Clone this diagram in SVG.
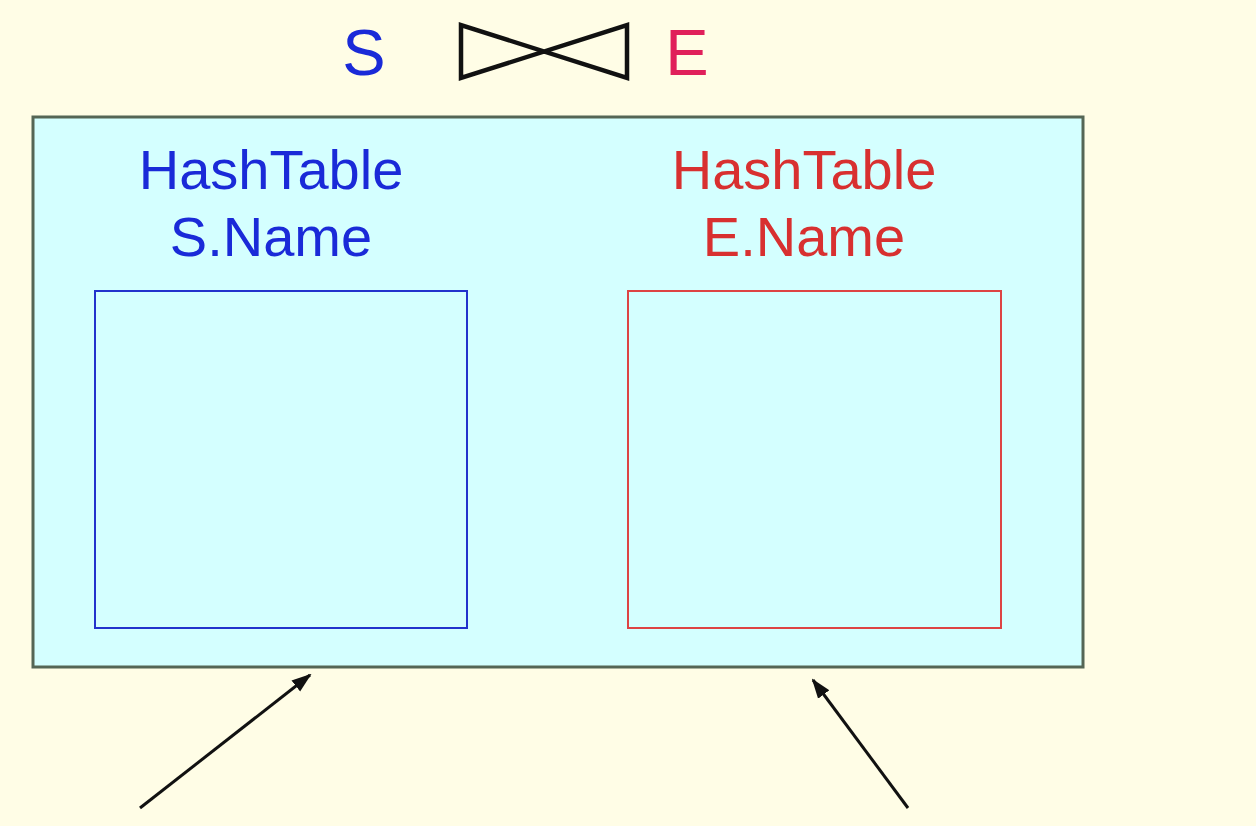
<svg xmlns="http://www.w3.org/2000/svg" width="1256" height="826" viewBox="0 0 1256 826">
<style>
  .lbl{font-family:"Liberation Sans",Arial,sans-serif;font-size:56px;text-anchor:middle}
  .blue{fill:#1a2ad8}
  .red{fill:#d83030}
  .arrow{stroke:#111;stroke-width:3;fill:none;marker-end:url(#ah)}
</style>
<defs>
  <marker id="ah" markerWidth="20" markerHeight="16" refX="18" refY="7" orient="auto" markerUnits="userSpaceOnUse" viewBox="0 0 20 14">
    <path d="M0,0 L20,7 L0,14 z" fill="#111"/>
  </marker>
</defs>
<rect width="1256" height="826" fill="#fffde6"/>
<g id="title">
  <text x="364" y="75" class="lbl" style="font-size:65px" fill="#1a2ad8">S</text>
  <path d="M461,25 L461,78 L627,25 L627,78 Z" fill="none" stroke="#111" stroke-width="4.5" stroke-linejoin="miter"/>
  <text x="687" y="75" class="lbl" style="font-size:65px" fill="#e0205a">E</text>
</g>
<g id="container">
  <rect x="33" y="117" width="1050" height="550" fill="#d4ffff" stroke="#556655" stroke-width="3"/>
</g>
<g id="hashS">
  <text x="271" y="189" class="lbl blue">HashTable</text>
  <text x="271" y="256" class="lbl blue">S.Name</text>
  <rect x="95" y="291" width="372" height="337" fill="none" stroke="#2233cc" stroke-width="2"/>
</g>
<g id="hashE">
  <text x="804" y="189" class="lbl red">HashTable</text>
  <text x="804" y="256" class="lbl red">E.Name</text>
  <rect x="628" y="291" width="373" height="337" fill="none" stroke="#dd4444" stroke-width="2"/>
</g>
<g id="connectors">
  <line x1="140" y1="808" x2="310" y2="675" class="arrow"/>
  <line x1="908" y1="808" x2="813" y2="680" class="arrow"/>
</g>
</svg>
